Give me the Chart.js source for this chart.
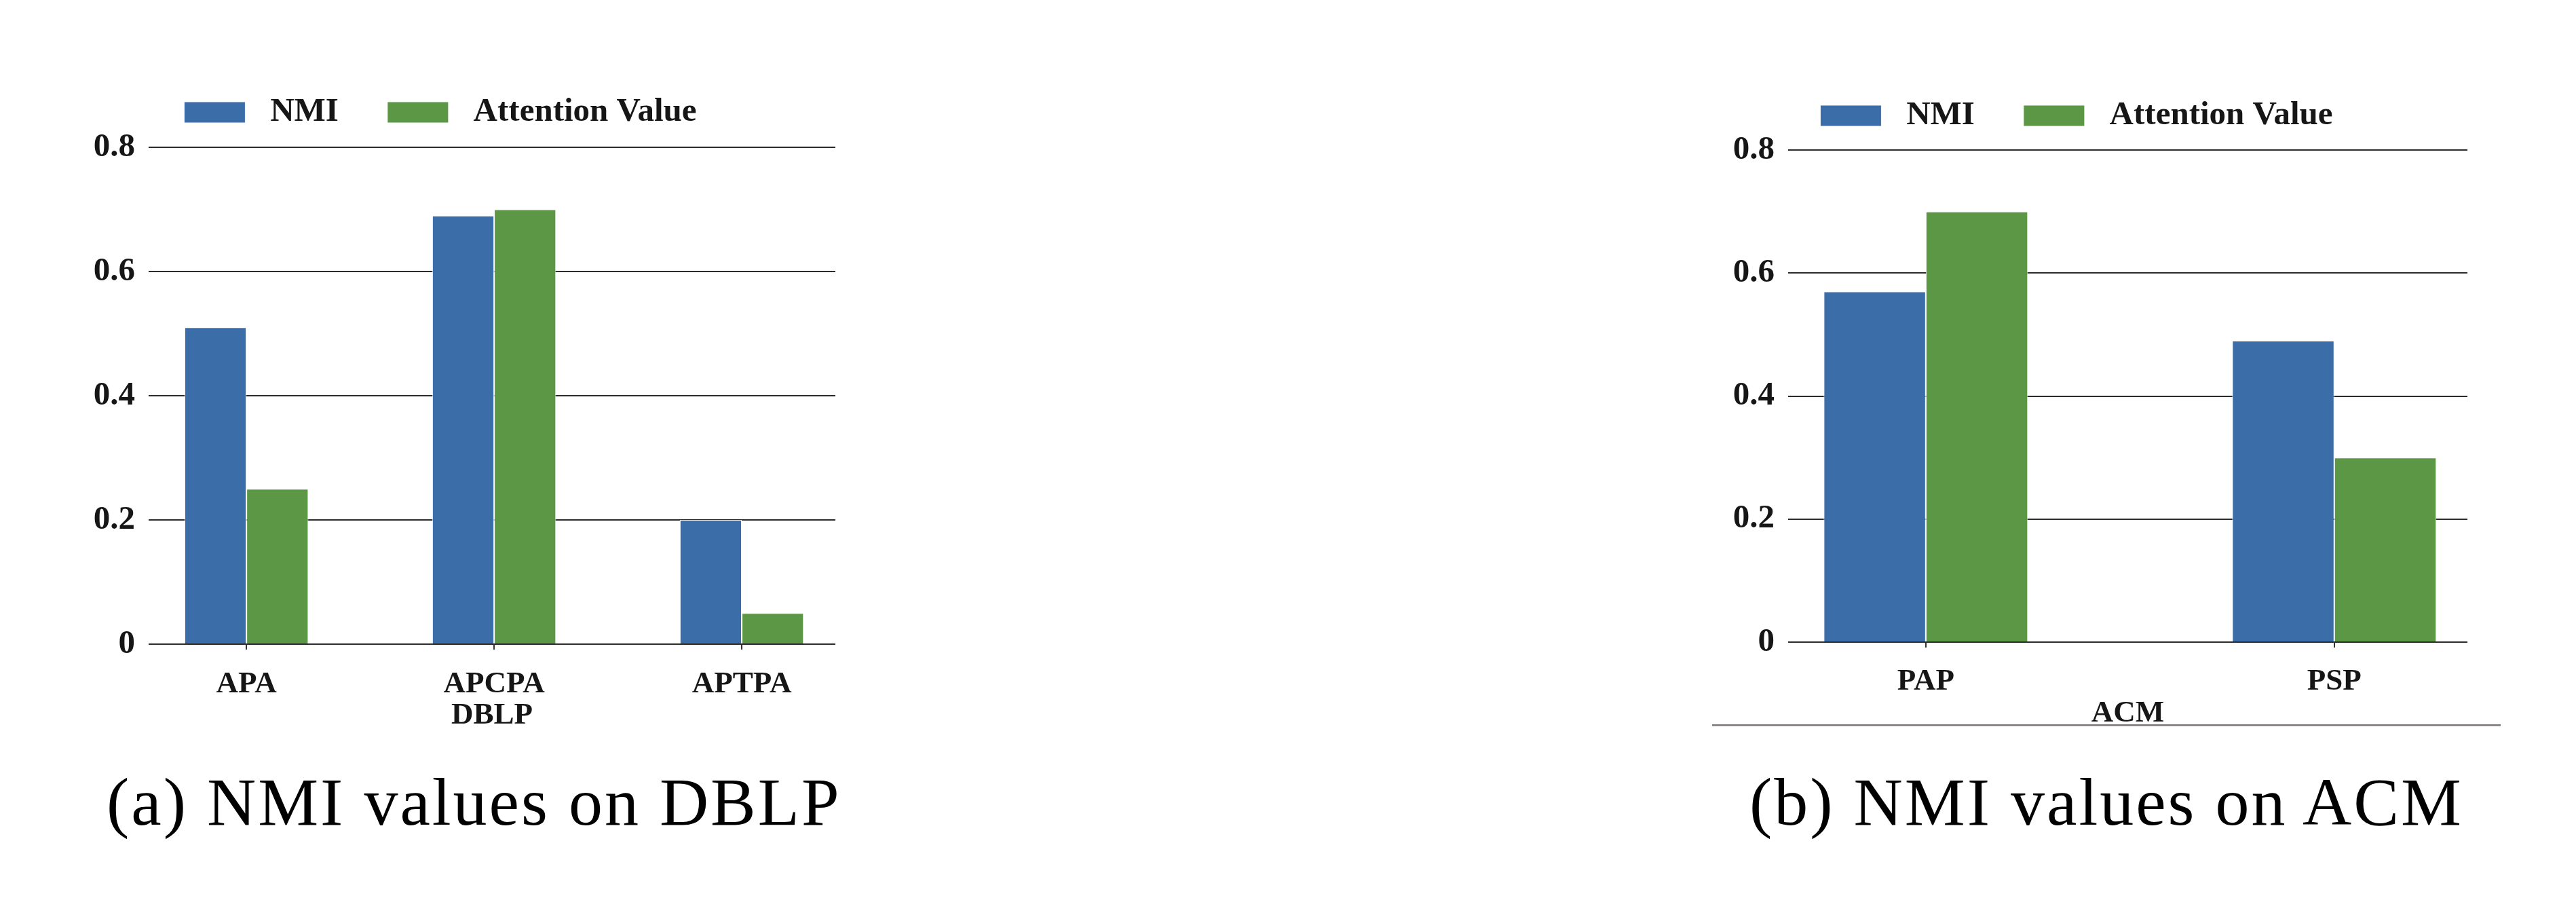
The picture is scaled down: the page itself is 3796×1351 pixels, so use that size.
<!DOCTYPE html>
<html>
<head>
<meta charset="utf-8">
<script src="https://cdn.jsdelivr.net/npm/chart.js@4.4.1/dist/chart.umd.min.js"></script>
<style>
  html, body { margin: 0; padding: 0; background: #fff; }
  body { width: 3796px; height: 1351px; position: relative; overflow: hidden; }
  canvas { position: absolute; }
  .leyenda { position: absolute; font-family: "Liberation Serif", serif; font-size: 100px; line-height: 100px;
             letter-spacing: 3px; color: #000; white-space: nowrap; }
  #raya { position: absolute; left: 2523px; top: 1067px; width: 1162px; height: 3px; background: #8d8686; }
</style>
</head>
<body>
<canvas id="dblp" width="1164" height="1081" style="left:67px;top:0"></canvas>
<canvas id="acm" width="1152" height="1078" style="left:2484px;top:0"></canvas>
<div id="raya"></div>
<div class="leyenda" style="left:157px;top:1132px">(a) NMI values on DBLP</div>
<div class="leyenda" style="left:2578px;top:1132px">(b) NMI values on ACM</div>
<script>
// Datos DBLP
const dblpLabels = ['APA', 'APCPA', 'APTPA'];
const dblpNmi = [0.51, 0.69, 0.20];
const dblpAttention = [0.25, 0.70, 0.05];

// Datos ACM
const acmLabels = ['PAP', 'PSP'];
const acmNmi = [0.57, 0.49];
const acmAttention = [0.70, 0.30];

const seriesNames = ['NMI', 'Attention Value'];
const yTickValues = [0, 0.2, 0.4, 0.6, 0.8];
const yTickLabels = ['0', '0.2', '0.4', '0.6', '0.8'];

const azul = '#3b6ea8';
const verde = '#5c9745';
const negro = '#161616';

Chart.defaults.font.family = '"Liberation Serif", serif';
Chart.defaults.font.weight = 'bold';
Chart.defaults.color = negro;

// arma un grafico de barras agrupadas
function grafico(id, labels, nmi, att, titulo, o) {
    const puntos = vals => vals.map((v, i) => ({ x: i, y: v }));
    const barra = {
        borderColor: 'rgba(255,255,255,0.9)',
        borderWidth: 1,
        categoryPercentage: 0.5,
        barPercentage: 1
    };

    new Chart(document.getElementById(id), {
        type: 'bar',
        data: {
            datasets: [
                Object.assign({ label: seriesNames[0], data: puntos(nmi), backgroundColor: azul }, barra),
                Object.assign({ label: seriesNames[1], data: puntos(att), backgroundColor: verde }, barra)
            ]
        },
        options: {
            responsive: false,
            animation: false,
            devicePixelRatio: 1,
            layout: { padding: { top: o.top, left: 0, right: 0, bottom: 0 } },
            plugins: {
                legend: {
                    labels: {
                        boxWidth: 90,
                        boxHeight: 31,
                        padding: 72,
                        color: negro,
                        font: { size: 49, weight: 'bold' },
                        generateLabels: c => Chart.defaults.plugins.legend.labels.generateLabels(c)
                            .map(l => Object.assign(l, { text: ' ' + l.text }))
                    }
                },
                // espacio entre la leyenda y el area del grafico
                subtitle: {
                    display: true,
                    text: '',
                    weight: 100,
                    font: { size: 1, lineHeight: 1 },
                    padding: { top: 0, bottom: o.gap }
                },
                tooltip: { enabled: false }
            },
            scales: {
                x: {
                    type: 'linear',
                    min: o.min,
                    max: o.max,
                    offset: false,
                    afterBuildTicks: s => { s.ticks = labels.map((_, i) => ({ value: i })); },
                    afterFit: s => { s.height = o.alto - o.base; },
                    grid: { offset: false, drawOnChartArea: false, drawTicks: true, tickLength: 8, color: '#333', lineWidth: 2 },
                    border: { display: false },
                    ticks: {
                        callback: v => labels[v],
                        padding: o.pad,
                        maxRotation: 0,
                        autoSkip: false,
                        color: negro,
                        font: { size: 45, weight: 'bold' }
                    },
                    title: {
                        display: true,
                        text: titulo,
                        color: negro,
                        padding: 0,
                        font: { size: 45, weight: 'bold' }
                    }
                },
                y: {
                    min: 0,
                    max: 0.8,
                    afterBuildTicks: s => { s.ticks = yTickValues.map(v => ({ value: v })); },
                    afterFit: s => { s.width = o.ancho; },
                    grid: { color: '#2b2b2b', lineWidth: 2, drawTicks: false },
                    border: { display: false },
                    ticks: {
                        callback: (v, i) => yTickLabels[i],
                        padding: 20,
                        color: negro,
                        font: { size: 49, weight: 'bold' }
                    }
                }
            }
        }
    });
}

grafico('dblp', dblpLabels, dblpNmi, dblpAttention, 'DBLP',
    { top: 69, gap: 16, min: -0.395, max: 2.378, alto: 1081, base: 949, pad: 24, ancho: 152 });
grafico('acm', acmLabels, acmNmi, acmAttention, 'ACM',
    { top: 74, gap: 15, min: -0.337, max: 1.326, alto: 1078, base: 946, pad: 23, ancho: 151 });
</script>
</body>
</html>
